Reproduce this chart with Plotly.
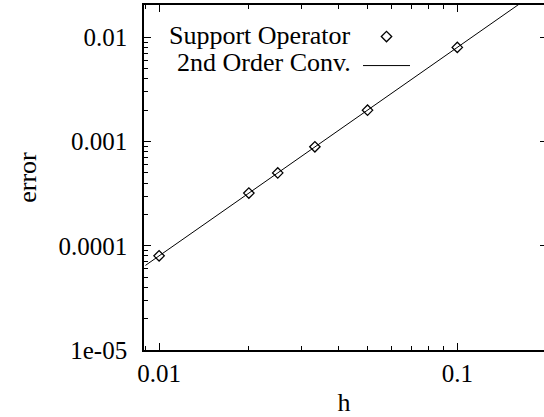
import plotly.graph_objects as go
import math

# data
h_vals = [0.01, 0.02, 0.025, 0.0333, 0.05, 0.1]
err_vals = [8.0e-5, 3.2e-4, 5.0e-4, 8.9e-4, 2.0e-3, 8.0e-3]
conv_h = [0.009, 0.2]
conv_err = [6.48e-5, 0.032]

x_range = [0.0089, 0.1953]
y_range = [1e-5, 0.0204]
y_tickvals = [1e-5, 1e-4, 1e-3, 1e-2]
y_ticktext = ["1e-05", "0.0001", "0.001", "0.01"]
x_tickvals = [0.01, 0.1]
x_ticktext = ["0.01", "0.1"]
legend_labels = ["Support Operator", "2nd Order Conv."]

# minor tick positions (2..9 within each decade)
x_minor = [m * d for d in [0.001, 0.01, 0.1] for m in range(2, 10)]
y_minor = [m * d for d in [1e-5, 1e-4, 1e-3, 1e-2] for m in range(2, 10)]

FONT = "Liberation Serif"
xr = [math.log10(v) for v in x_range]
yr = [math.log10(v) for v in y_range]

fig = go.Figure()
fig.add_trace(go.Scatter(x=h_vals, y=err_vals, mode="markers", name=" ",
                         marker=dict(symbol="diamond-open", size=8, color="black",
                                     line=dict(width=1.3, color="black"))))
fig.add_trace(go.Scatter(x=conv_h, y=conv_err, mode="lines", name=" ",
                         line=dict(color="black", width=1)))
# invisible carriers so the tick-only overlay axes get drawn
for xa, ya in [("x2", "y"), ("x", "y2"), ("x", "y3")]:
    fig.add_trace(go.Scatter(x=h_vals, y=err_vals, xaxis=xa, yaxis=ya,
                             mode="markers", marker=dict(opacity=0),
                             showlegend=False, hoverinfo="skip"))

ax_common = dict(type="log", ticks="inside", showline=True, linecolor="black",
                 linewidth=1.6, tickcolor="black", tickwidth=1.3,
                 showgrid=False, zeroline=False,
                 tickfont=dict(family=FONT, size=25, color="black"))
tick_only = dict(type="log", ticks="inside", tickcolor="black", tickwidth=1.3,
                 showticklabels=False, showline=False, showgrid=False,
                 zeroline=False, tickmode="array")

fig.update_layout(
    width=544, height=417,
    margin=dict(l=144, r=0, t=5, b=67),
    paper_bgcolor="white", plot_bgcolor="white",
    font=dict(family=FONT, size=25, color="black"),
    showlegend=True,
    legend=dict(x=0.535, y=0.965, xanchor="left", yanchor="top",
                bgcolor="rgba(0,0,0,0)", borderwidth=0,
                font=dict(family=FONT, size=20), itemwidth=47, traceorder="normal"),
    xaxis=dict(**ax_common, range=xr,
               tickmode="array", tickvals=x_tickvals, ticktext=x_ticktext, ticklen=7,
               mirror="ticks", ticklabelstandoff=0,
               title=dict(text="h", font=dict(family=FONT, size=26), standoff=7)),
    xaxis2=dict(**tick_only, overlaying="x", anchor="y", side="bottom",
                range=xr, tickvals=x_minor, ticklen=4, mirror="ticks"),
    yaxis=dict(**ax_common, range=yr,
               tickmode="array", tickvals=y_tickvals, ticktext=y_ticktext, ticklen=7,
               ticklabelstandoff=10,
               title=dict(text="error", font=dict(family=FONT, size=26), standoff=14)),
    yaxis2=dict(**tick_only, overlaying="y", side="right", anchor="x",
                range=yr, tickvals=y_tickvals, ticklen=4),
    yaxis3=dict(**tick_only, overlaying="y", side="left", anchor="x",
                range=yr, tickvals=y_minor, ticklen=4),
)

for i, label in enumerate(legend_labels):
    fig.add_annotation(text=label, xref="paper", yref="paper",
                       x=(352.5 - 144) / 400, y=[0.912, 0.834][i],
                       xanchor="right", yanchor="middle", showarrow=False,
                       font=dict(family=FONT, size=26, color="black"))

fig.write_html("out.html")
